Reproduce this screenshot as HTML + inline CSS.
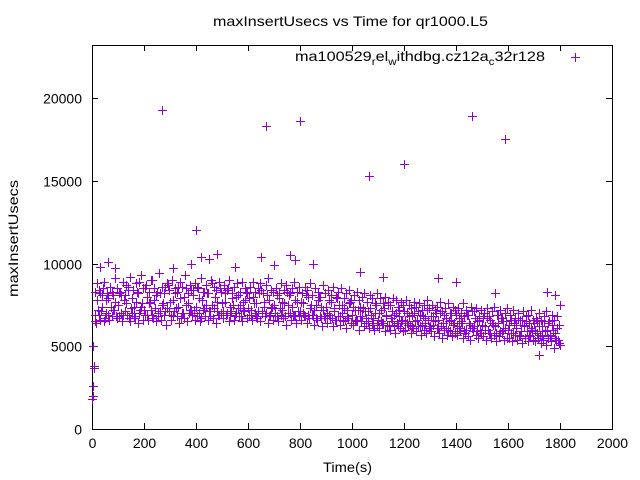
<!DOCTYPE html>
<html><head><meta charset="utf-8"><style>body{margin:0;background:#fff}svg{display:block;font-family:"Liberation Sans",sans-serif}</style></head>
<body>
<svg id="chart" width="640" height="480" xmlns="http://www.w3.org/2000/svg">
<rect width="640" height="480" fill="#fff"/>
<text x="213" y="26" font-size="14" textLength="275" lengthAdjust="spacingAndGlyphs">maxInsertUsecs vs Time for qr1000.L5</text>
<text x="323" y="472" font-size="14" textLength="49" lengthAdjust="spacingAndGlyphs">Time(s)</text>
<text transform="translate(18,297) rotate(-90)" font-size="14" textLength="117" lengthAdjust="spacingAndGlyphs">maxInsertUsecs</text>
<g id="axes"></g>
<g id="points"></g>
<g>
<text x="295" y="61" font-size="14" textLength="250" lengthAdjust="spacingAndGlyphs">ma100529<tspan font-size="10" dy="4">r</tspan><tspan dy="-4">el</tspan><tspan font-size="10" dy="4">w</tspan><tspan dy="-4">ithdbg.cz12a</tspan><tspan font-size="10" dy="4">c</tspan><tspan dy="-4">32r128</tspan></text>
<path d="M571,57.5h9M575.5,53v9" stroke="#9400d3" stroke-width="1"/>
</g>
</svg>
<script>
const xTicks=[0,200,400,600,800,1000,1200,1400,1600,1800,2000];
const yTicks=[0,5000,10000,15000,20000];
const sA=[1800,6900,7800,8200,7400,6700,7900,8600,7200,7700,7500,8100,6900,7600,8400,7300,6800,7700,8900,7400,7200,8000,7600,6900,7800,8300,7100,7500,8600,7300,7700,6800,8200,7400,7900,7000,8500,7600,7200,8100,7400,7900,6700,8300,7500,7100,8800,7300,7700,6900,7600,8200,7000,7400,7900,6800,8100,7500,7200,7800,7300,6900,8000,7600,7100,8400,7400,7000,7800,7300,7500,6800,7900,7200,7600,8300,7000,7400,6900,7700,7100,7600,6800,8000,7300,6900,7500,7800,6700,7200,7400,6900,7700,7100,6600,7500,7000,7300,6800,7600,6900,7200,6600,7400,6800,7100,6500,7300,6700,7000,6600,7200,6400,6900,7500,6700,6300,7000,6800,6500,7100,6400,6800,6200,7000,6600,6900,6300,6700,7200,6200,6800,6500,6100,7000,6400,6700,6000,6600,6300,6900,6100,6500,6800,6000,6400,7100,6200,5900,6600,6300,6000,6700,5800,6400,6200,6900,5900,6500,6100,6000,6600,5800,6300,6700,5900,6200,6500,5700,6100,6400,5800,6200,5600,6500,6000,5700,6300,5500,6100];
const sB=[5000,8300,7200,6600,8500,7800,6900,7400,8100,6800,8200,7000,7800,8700,6700,7900,7400,8300,7000,7600,8500,6900,7700,9000,7300,6800,8200,7600,7100,8700,6900,7800,7300,8600,6700,8000,7500,7000,8400,7200,8600,7000,7800,7300,8200,6800,7500,8000,7100,8500,7100,7700,8500,6900,7500,8000,7300,6800,7700,8300,7900,7200,7600,6800,8200,7000,7700,8100,6800,7400,7000,8100,7300,7700,6800,7500,8200,6900,7800,7100,7700,7000,8100,6900,7500,7200,6700,8000,7400,6800,7000,7800,6700,7300,7900,6800,7500,6600,7200,7700,7400,6500,7200,6800,7300,6400,7100,6900,6300,7500,7000,6500,7300,6800,6200,7100,6900,6400,7200,6600,6500,7000,6300,6900,6500,7100,6200,6800,6400,6600,6800,6300,7000,6600,6200,6900,6100,6500,7000,6400,6200,6700,6400,6000,6900,6300,6100,6700,6500,6000,6700,6200,6000,6600,6300,5800,6400,6700,6000,6500,6300,5800,6400,6100,5700,6600,6300,5900,6400,6000,5900,6500,5700,6200,5900,6400,5600,6000,5800,5400];
const sC=[2600,6400,6900,7100,6500,7000,6600,6800,7200,6700,6800,6500,7100,6900,6500,7000,6700,6400,7200,6600,6900,6600,7200,6700,6500,7000,6600,6900,6300,7100,6600,7100,6800,6400,7000,6700,6500,7200,6900,6600,6800,6500,7200,6800,6600,7100,6700,6400,6900,7000,6700,6900,6500,7100,6600,7000,6800,6500,7100,6700,6900,6600,7000,6700,6500,7100,6800,6400,6900,6600,6800,6500,6900,6700,6300,7000,6600,6800,6400,6900,6600,6800,6400,6700,6900,6300,6600,6800,6200,6700,6400,6700,6200,6600,6800,6300,6500,6100,6700,6400,6300,6600,6000,6500,6200,6700,6100,6400,6000,6300,6100,6400,5900,6300,6000,6500,5800,6200,6100,5900,6000,6300,5800,6100,5900,6200,5700,6000,5800,6100,5900,5600,6100,5800,5500,6000,5700,5900,5600,5800,5700,5900,5500,5800,5600,5400,5900,5700,5500,5800,5600,5400,5800,5500,5700,5300,5600,5800,5400,5500,5500,5300,5700,5400,5600,5200,5500,5300,5600,5400,5300,5500,5200,5400,5100,5500,5300,4900,5400,5200];
const sD=[3800,8800,8400,8100,8900,8200,8600,8300,9100,8500,8300,8900,8100,8600,9200,8400,8800,8200,9300,8500,8700,8300,9000,8500,8100,9400,8600,8200,8800,8400,9000,8500,8300,8900,8600,9300,8200,8700,8400,8800,8500,9100,8300,8700,8200,9000,8600,8400,8900,8300,8700,8400,9000,8200,8600,8800,8300,8900,8500,8200,8600,8900,8300,8500,8800,8200,8700,9100,8400,8300,8500,8200,8800,8400,8700,8100,8500,8900,8300,8600,8200,8600,8400,8800,8100,8500,8300,8000,8700,8200,8400,8100,8600,8000,8300,8500,7900,8200,8400,7800,8100,8300,7800,8000,8200,7700,8100,7900,7600,8200,7900,7600,8000,7700,7500,7900,7800,7400,7700,7500,7800,7500,7300,7700,7400,7600,7200,7500,7800,7300,7500,7200,7400,7700,7100,7300,7600,7000,7400,7200,7300,7000,7600,7200,6900,7400,7100,7300,6800,7200,7000,7300,6800,7100,7400,6900,7200,6700,7000,7300,6900,7200,6700,7000,6600,7100,6800,6900,7200,6600,6700,7000,6600,6800,7100,6500,6900,6600,6800,6300];
const outT=[0,3,6,12,270,670,800,1065,1200,1460,1590,400,310,380,420,480,450,550,650,760,780,700,850,1120,1330,1400,1030,1550,1750,1720,1800,1800,1780,60,90,30];
const outV=[1800,2000,3700,6500,19300,18300,18600,15300,16000,18900,17500,12000,9700,10000,10400,10600,10300,9800,10400,10500,10200,9900,10000,9200,9100,8900,9500,8200,8300,4500,5100,7500,8100,10100,9700,9800];
const X0=92,X1=612,Y0=429,Y1=45;
const xs=t=>X0+t*(X1-X0)/2000;
const ys=v=>Y0-v*(429-98)/20000;
const NS="http://www.w3.org/2000/svg";
const ax=document.getElementById('axes');
function mk(tag,attrs,parent){const e=document.createElementNS(NS,tag);for(const k in attrs)e.setAttribute(k,attrs[k]);parent.appendChild(e);return e;}
const frame=mk('rect',{x:X0+0.5,y:Y1+0.5,width:X1-X0,height:Y0-Y1,fill:'none',stroke:'#000','stroke-width':1},ax);


xTicks.forEach(t=>{const x=Math.round(xs(t))+0.5;
 const tk=mk('path',{d:`M${x},${Y0}v-6M${x},${Y1}v6`,stroke:'#000'},ax);
 
 
 const l=mk('text',{x:x,y:448,'font-size':14,'text-anchor':'middle'},ax);l.textContent=t;
 
 
});
yTicks.forEach(v=>{const y=Math.round(ys(v))+0.5;
 const tk=mk('path',{d:`M${X0},${y}h6M${X1},${y}h-6`,stroke:'#000'},ax);
 
 
 const l=mk('text',{x:82,y:y+5,'font-size':14,'text-anchor':'end'},ax);l.textContent=v;
 
 
});
const pg=document.getElementById('points');
let d='';
function add(t,v){const x=Math.round(xs(t))+0.5,y=Math.round(ys(v))+0.5;d+=`M${x-4.5},${y}h9M${x},${y-4.5}v9`;}
[[sA,0],[sB,2.5],[sC,5],[sD,7.5]].forEach(([s,o])=>s.forEach((v,i)=>add(i*10+o,v)));
outT.forEach((t,i)=>add(t,outV[i]));
const p=mk('path',{d:d,stroke:'#9400d3','stroke-width':1,fill:'none'},pg);


</script>
</body></html>
